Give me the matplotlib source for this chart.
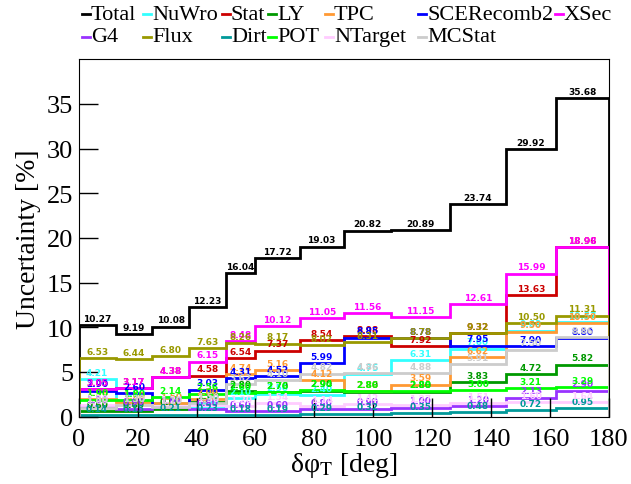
import numpy as np
import matplotlib
matplotlib.use("Agg")
import matplotlib.pyplot as plt
from matplotlib.lines import Line2D

plt.rcParams['font.family'] = ['Liberation Serif', 'DejaVu Serif']
plt.rcParams['mathtext.fontset'] = 'stix'

# bin edges in delta phi_T [deg]
edges = [0, 12.5, 25, 37.5, 50, 60, 75, 90, 106, 126, 145, 162, 180]

names = ["Total", "NuWro", "Stat", "LY", "TPC", "SCERecomb2", "XSec",
         "G4", "Flux", "Dirt", "POT", "NTarget", "MCStat"]
colors = ["#000000", "#33ffff", "#cc0000", "#009900", "#ff9933", "#0000ff", "#ff00ff",
          "#9933ff", "#999900", "#009999", "#00ff00", "#ffccff", "#cccccc"]

total = [10.27, 9.19, 10.08, 12.23, 16.04, 17.72, 19.03, 20.82, 20.89, 23.74, 29.92, 35.68]
nuwro = [4.21, 1.90, 1.50, 1.00, 2.10, 2.50, 2.40, 4.75, 6.31, 7.60, 9.63, 10.57]
stat = [3.05, 3.17, 4.38, 4.58, 6.54, 7.37, 8.54, 8.98, 7.92, 9.32, 13.63, 18.96]
ly = [0.60, 0.60, 0.90, 1.60, 2.89, 2.70, 2.90, 2.80, 2.80, 3.83, 4.72, 5.82]
tpc = [1.98, 1.60, 1.50, 2.00, 4.74, 5.16, 4.12, 2.86, 3.59, 6.62, 9.50, 10.50]
sce = [2.90, 2.60, 1.07, 3.03, 4.31, 4.52, 5.99, 8.85, 8.78, 7.95, 7.90, 8.80]
xsec = [3.05, 3.17, 4.38, 6.15, 8.48, 10.12, 11.05, 11.56, 11.15, 12.61, 15.99, 18.98]
g4 = [1.20, 0.90, 1.07, 0.80, 0.60, 0.60, 0.80, 0.90, 1.00, 1.20, 2.13, 2.90]
flux = [6.53, 6.44, 6.80, 7.63, 8.26, 8.17, 8.02, 8.31, 8.78, 9.32, 10.50, 11.31]
dirt = [0.14, 0.15, 0.21, 0.23, 0.18, 0.19, 0.29, 0.32, 0.35, 0.48, 0.72, 0.95]
pot = [1.90, 1.80, 2.14, 2.56, 2.60, 2.76, 2.94, 2.86, 2.88, 3.00, 3.21, 3.29]
ntarget = [1.30, 1.30, 1.20, 1.30, 1.20, 1.54, 1.14, 1.42, 1.27, 1.51, 1.60, 1.64]
mcstat = [1.00, 1.30, 1.10, 1.50, 3.62, 4.10, 4.82, 4.86, 4.88, 5.91, 7.50, 8.86]

series = [total, nuwro, stat, ly, tpc, sce, xsec, g4, flux, dirt, pot, ntarget, mcstat]

fig = plt.figure(figsize=(6.31, 4.85), dpi=100)
ax = fig.add_axes([0.1247, 0.139, 0.8403, 0.737])

edges = np.array(edges)
centers = 0.5 * (edges[1:] + edges[:-1])
for vals, col in zip(series, colors):
    v = np.array(vals)
    ax.stairs(v, edges, color=col, lw=2)
    for xc, yv in zip(centers, v):
        ax.text(xc, yv + 0.25, "%.2f" % yv, color=col, fontsize=6.5,
                fontweight='bold', family='DejaVu Sans', ha='center', va='bottom')

ax.set_xlim(0, 180)
ax.set_ylim(0, 40)
ax.set_xticks(np.arange(0, 181, 20))
ax.set_yticks(np.arange(0, 36, 5))
ax.tick_params(direction='in', length=14, width=1, labelsize=19, pad=4)
ax.tick_params(axis='x', pad=8)
ax.set_xlabel("δφ$_{\\mathrm{T}}$ [deg]", fontsize=20, labelpad=0)
ax.set_ylabel("Uncertainty [%]", fontsize=20, labelpad=4)

# legend, two rows, ROOT style
col_x = [82, 143, 222, 268, 325, 418, 555]
row_y = [15, 38]
for i, (nm, col) in enumerate(zip(names, colors)):
    r = 0 if i < 7 else 1
    c = i if i < 7 else i - 7
    x0 = col_x[c] / 631
    y0 = 1 - row_y[r] / 485
    fig.add_artist(Line2D([x0, x0 + 8 / 631], [y0, y0], color=col, lw=2,
                          transform=fig.transFigure))
    fig.text(x0 + 9 / 631, y0, nm, fontsize=16, va='center', ha='left')

fig.savefig("out.png", dpi=100)
